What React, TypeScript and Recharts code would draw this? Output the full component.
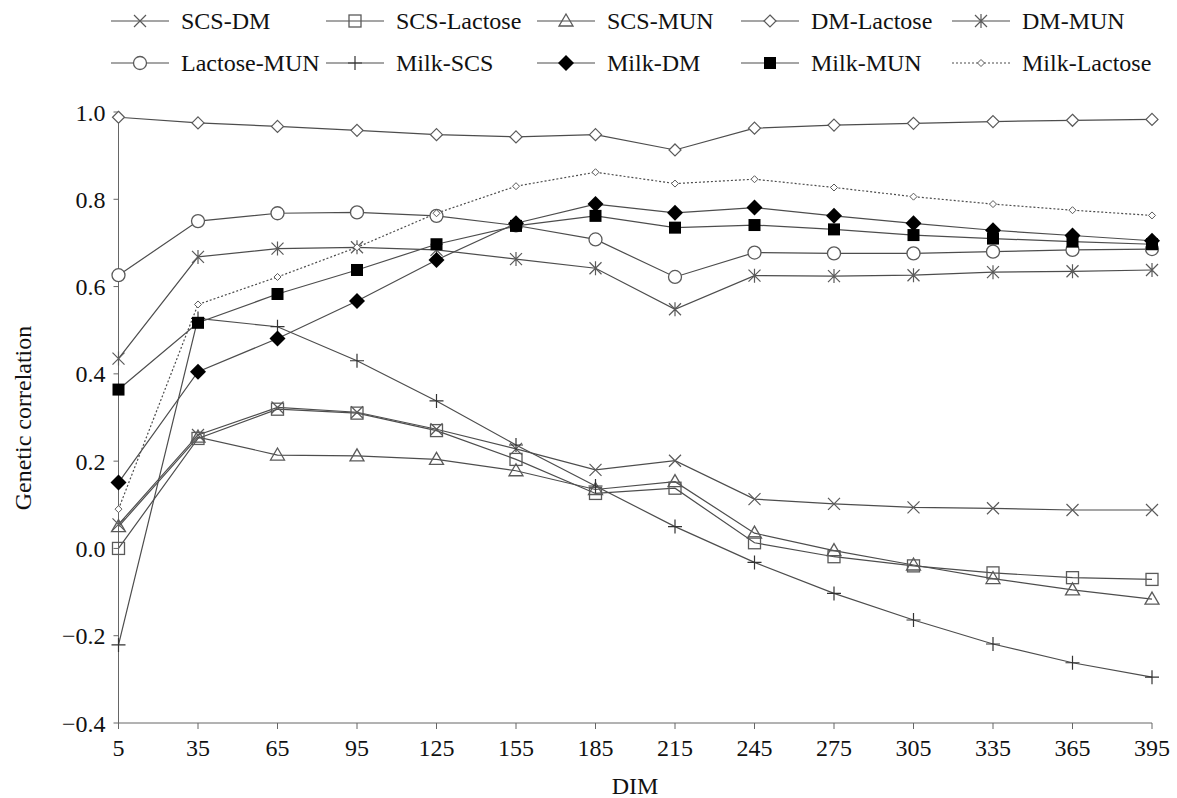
import { Label, Legend, Line, LineChart, XAxis, YAxis } from "recharts";

const dims = [5, 35, 65, 95, 125, 155, 185, 215, 245, 275, 305, 335, 365, 395];
const yTicks = [-0.4, -0.2, 0, 0.2, 0.4, 0.6, 0.8, 1.0];

const scsDm = [0.055, 0.26, 0.323, 0.312, 0.273, 0.228, 0.18, 0.201, 0.113, 0.102, 0.094, 0.092, 0.088, 0.088];
const scsLactose = [0.0, 0.252, 0.319, 0.31, 0.27, 0.204, 0.126, 0.138, 0.013, -0.019, -0.04, -0.056, -0.067, -0.071];
const scsMun = [0.05, 0.255, 0.214, 0.212, 0.204, 0.178, 0.135, 0.153, 0.035, -0.005, -0.038, -0.069, -0.095, -0.116];
const dmLactose = [0.988, 0.975, 0.967, 0.958, 0.948, 0.943, 0.948, 0.913, 0.963, 0.97, 0.974, 0.978, 0.981, 0.983];
const dmMun = [0.435, 0.668, 0.687, 0.69, 0.684, 0.663, 0.642, 0.548, 0.625, 0.624, 0.626, 0.633, 0.635, 0.638];
const lactoseMun = [0.626, 0.75, 0.768, 0.77, 0.762, 0.74, 0.708, 0.622, 0.678, 0.676, 0.676, 0.68, 0.684, 0.686];
const milkScs = [-0.221, 0.527, 0.508, 0.43, 0.338, 0.237, 0.143, 0.05, -0.032, -0.103, -0.164, -0.219, -0.262, -0.295];
const milkDm = [0.151, 0.405, 0.481, 0.567, 0.661, 0.745, 0.789, 0.769, 0.781, 0.762, 0.745, 0.729, 0.717, 0.705];
const milkMun = [0.364, 0.517, 0.583, 0.638, 0.697, 0.739, 0.762, 0.735, 0.741, 0.731, 0.718, 0.71, 0.703, 0.697];
const milkLactose = [0.09, 0.559, 0.622, 0.69, 0.768, 0.83, 0.862, 0.836, 0.846, 0.827, 0.806, 0.789, 0.775, 0.763];

type Shape = "x" | "square" | "triangle" | "diamond" | "asterisk" | "circle" | "plus" | "fdiamond" | "fsquare" | "sdiamond";

const series: { key: string; name: string; values: number[]; shape: Shape; dashed?: boolean }[] = [
    { key: "scsDm", name: "SCS-DM", values: scsDm, shape: "x" },
    { key: "scsLactose", name: "SCS-Lactose", values: scsLactose, shape: "square" },
    { key: "scsMun", name: "SCS-MUN", values: scsMun, shape: "triangle" },
    { key: "dmLactose", name: "DM-Lactose", values: dmLactose, shape: "diamond" },
    { key: "dmMun", name: "DM-MUN", values: dmMun, shape: "asterisk" },
    { key: "lactoseMun", name: "Lactose-MUN", values: lactoseMun, shape: "circle" },
    { key: "milkScs", name: "Milk-SCS", values: milkScs, shape: "plus" },
    { key: "milkDm", name: "Milk-DM", values: milkDm, shape: "fdiamond" },
    { key: "milkMun", name: "Milk-MUN", values: milkMun, shape: "fsquare" },
    { key: "milkLactose", name: "Milk-Lactose", values: milkLactose, shape: "sdiamond", dashed: true },
];

const data = dims.map((d, i) => {
    const row: any = { dim: d };
    series.forEach((s) => (row[s.key] = s.values[i]));
    return row;
});

const FONT = "'Liberation Serif', 'Times New Roman', 'DejaVu Serif', serif";
const LINE = "#4d4d4d";
const MARK = "#5a5a5a";

const Marker = ({ cx, cy, shape }: { cx: number; cy: number; shape: Shape }) => {
    const s = 6;
    switch (shape) {
        case "x":
            return (
                <path d={`M${cx - s},${cy - s}L${cx + s},${cy + s}M${cx - s},${cy + s}L${cx + s},${cy - s}`} stroke={MARK} strokeWidth={1.2} />
            );
        case "square":
            return <rect x={cx - 6} y={cy - 6} width={12} height={12} fill="none" stroke={MARK} strokeWidth={1.3} />;
        case "triangle":
            return <path d={`M${cx},${cy - 7}L${cx + 7},${cy + 5}L${cx - 7},${cy + 5}Z`} fill="none" stroke={MARK} strokeWidth={1.3} />;
        case "diamond":
            return <path d={`M${cx},${cy - 6}L${cx + 6},${cy}L${cx},${cy + 6}L${cx - 6},${cy}Z`} fill="#fff" stroke={MARK} strokeWidth={1.2} />;
        case "asterisk":
            return (
                <path
                    d={`M${cx - s},${cy - s}L${cx + s},${cy + s}M${cx - s},${cy + s}L${cx + s},${cy - s}M${cx},${cy - 7}L${cx},${cy + 7}`}
                    stroke={MARK}
                    strokeWidth={1.2}
                />
            );
        case "circle":
            return <circle cx={cx} cy={cy} r={6.5} fill="#fff" stroke={MARK} strokeWidth={1.3} />;
        case "plus":
            return <path d={`M${cx - 7},${cy}L${cx + 7},${cy}M${cx},${cy - 7}L${cx},${cy + 7}`} stroke="#333" strokeWidth={1.2} />;
        case "fdiamond":
            return <path d={`M${cx},${cy - 8}L${cx + 8},${cy}L${cx},${cy + 8}L${cx - 8},${cy}Z`} fill="#000" />;
        case "fsquare":
            return <rect x={cx - 6} y={cy - 6} width={12} height={12} fill="#000" />;
        case "sdiamond":
            return <path d={`M${cx},${cy - 3.5}L${cx + 3.5},${cy}L${cx},${cy + 3.5}L${cx - 3.5},${cy}Z`} fill="#fff" stroke={MARK} strokeWidth={1} />;
    }
};

const makeDot = (shape: Shape) => (props: any) => {
    if (props.cx == null || props.cy == null) return <g key={props.index} />;
    return <Marker key={props.index} cx={props.cx} cy={props.cy} shape={shape} />;
};

const legendColumns = [111, 326, 537, 741, 952];

// legend box is 90px tall; recharts adds it to the top margin
const CustomLegend = () => (
    <div style={{ position: "relative", width: 1177, height: 90, fontFamily: FONT, fontSize: 24, color: "#111" }}>
        {series.map((s, i) => {
            const col = i % 5;
            const row = Math.floor(i / 5);
            return (
                <div
                    key={s.key}
                    style={{
                        position: "absolute",
                        left: legendColumns[col],
                        top: row === 0 ? 5 : 47,
                        display: "flex",
                        alignItems: "center",
                        whiteSpace: "nowrap",
                        lineHeight: "32px",
                    }}
                >
                    <svg width={58} height={20} style={{ marginRight: 12 }}>
                        <line x1={0} y1={10} x2={58} y2={10} stroke={LINE} strokeWidth={1.2} strokeDasharray={s.dashed ? "2 2" : undefined} />
                        <Marker cx={29} cy={10} shape={s.shape} />
                    </svg>
                    <span>{s.name}</span>
                </div>
            );
        })}
    </div>
);

const fmt = (v: number) => (v < 0 ? "\u2212" + Math.abs(v).toFixed(1) : v.toFixed(1));

const App = () => {
    return (
        <div style={{ position: "absolute", left: 0, top: 0, background: "#fff" }}>
            <LineChart width={1177} height={798} data={data} margin={{ top: 22, right: 25, bottom: 0, left: 0 }}>
                <Legend verticalAlign="top" content={<CustomLegend />} wrapperStyle={{ top: 0, left: 0 }} />
                <XAxis
                    dataKey="dim"
                    height={75}
                    stroke="#666"
                    tickSize={6}
                    tickMargin={10}
                    tick={{ fill: "#111", fontSize: 24, fontFamily: FONT }}
                    interval={0}
                >
                    <Label
                        content={() => (
                            <text x={635} y={786} textAnchor="middle" dominantBaseline="central" fontSize={24} fontFamily={FONT} fill="#111">
                                DIM
                            </text>
                        )}
                    />
                </XAxis>
                <YAxis
                    type="number"
                    domain={[-0.4, 1.0]}
                    ticks={yTicks}
                    width={118.5}
                    stroke="#666"
                    tickSize={5}
                    tickMargin={8}
                    tickFormatter={fmt}
                    tick={{ fill: "#111", fontSize: 24, fontFamily: FONT }}
                    interval={0}
                >
                    <Label
                        content={() => (
                            <text
                                x={23}
                                y={418}
                                transform="rotate(-90 23 418)"
                                textAnchor="middle"
                                dominantBaseline="central"
                                fontSize={24}
                                fontFamily={FONT}
                                fill="#111"
                            >
                                Genetic correlation
                            </text>
                        )}
                    />
                </YAxis>
                {series.map((s) => (
                    <Line
                        key={s.key}
                        dataKey={s.key}
                        name={s.name}
                        type="linear"
                        stroke={LINE}
                        strokeWidth={1.2}
                        strokeDasharray={s.dashed ? "2 2" : undefined}
                        dot={makeDot(s.shape)}
                        activeDot={false}
                        isAnimationActive={false}
                    />
                ))}
            </LineChart>
        </div>
    );
};

export default App;
